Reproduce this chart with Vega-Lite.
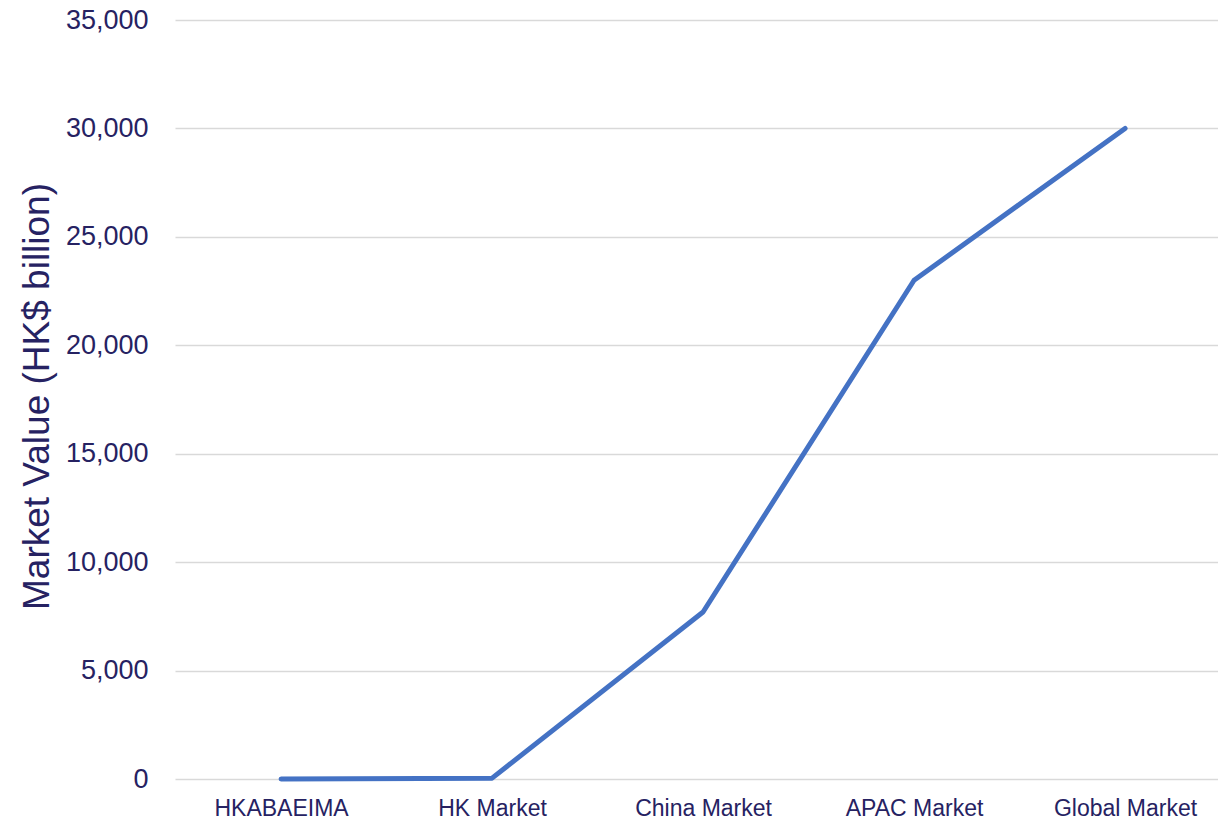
{
  "$schema": "https://vega.github.io/schema/vega-lite/v6.json",
  "autosize": {"type": "none"},
  "padding": {"left": 175, "top": 20, "right": 0, "bottom": 42},
  "width": 1043,
  "height": 759,
  "background": "white",
  "config": {"view": {"stroke": null}, "font": "Liberation Sans"},
  "data": {"values": [
    {"market": "HKABAEIMA", "value": 5},
    {"market": "HK Market", "value": 40},
    {"market": "China Market", "value": 7700},
    {"market": "APAC Market", "value": 23000},
    {"market": "Global Market", "value": 30000}
  ]},
  "mark": {"type": "line", "color": "#4472c4", "strokeWidth": 5, "strokeCap": "round", "strokeJoin": "round"},
  "encoding": {
    "x": {
      "field": "market", "type": "ordinal", "sort": null,
      "scale": {"type": "point", "padding": 0.4716, "align": 0.533},
      "axis": {"title": null, "domain": false, "ticks": false, "grid": false, "labelAngle": 0,
        "labelFontSize": 23, "labelColor": "#262262", "labelPadding": 18, "labelFont": "Liberation Sans"}
    },
    "y": {
      "field": "value", "type": "quantitative",
      "scale": {"domain": [0, 35000], "nice": false, "zero": true},
      "axis": {"title": "Market Value (HK$ billion)", "values": [0, 5000, 10000, 15000, 20000, 25000, 30000, 35000],
        "format": ",d", "domain": false, "ticks": false, "grid": true, "gridColor": "#d9d9d9", "gridWidth": 1.5,
        "labelFontSize": 27, "labelColor": "#262262", "labelPadding": 27, "labelFont": "Liberation Sans",
        "titleFontSize": 37, "titleFontWeight": "normal", "titleColor": "#262262", "titleFont": "Liberation Sans",
        "titleX": -138, "titleY": 376, "titleAngle": -90, "titleBaseline": "middle", "titleAlign": "center"}
    }
  }
}
